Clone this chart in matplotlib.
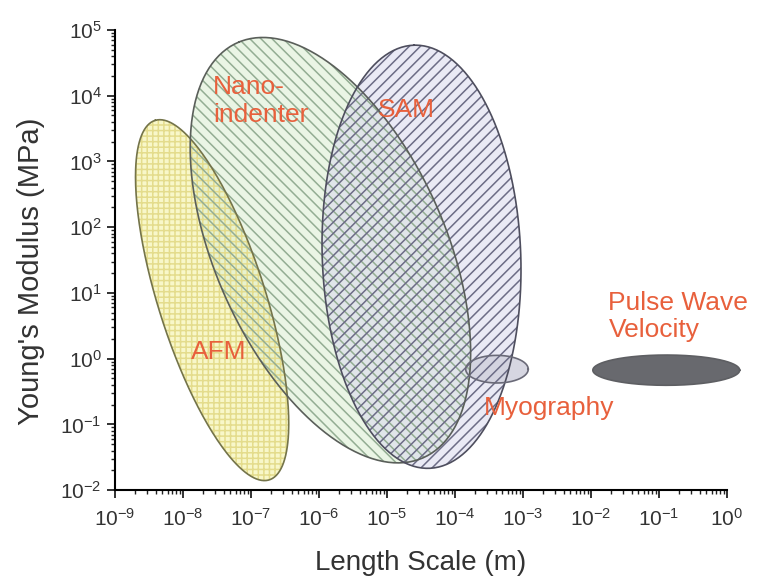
import numpy as np
import matplotlib.pyplot as plt

plt.rcParams['font.family'] = ['Liberation Sans', 'DejaVu Sans']
plt.rcParams['hatch.linewidth'] = 1.1

# ellipse regions in log10 space: centre x, centre y, semi-major, semi-minor, angle (deg)
names = ['AFM', 'Nano', 'SAM', 'Myography', 'PWV']
cx = [-7.57, -5.83, -4.49, -3.38, -0.89]
cy = [0.89, 1.65, 1.55, -0.16, -0.175]
semi_a = [2.86, 3.44, 3.22, 0.46, 1.08]
semi_b = [0.79, 1.70, 1.46, 0.21, 0.23]
angle = [107, 113, 92, 0, 0]

face = ['#f8f7c4', '#ddefd4', '#d9d9ee', '#d2d2de', '#68696e']
face_alpha = [0.9, 0.6, 0.55, 0.9, 1.0]
hatch_col = ['#e4dc8c', '#93ad93', '#6c6c86', None, None]
hatches = ['+++', '\\\\\\', '///', None, None]
edge = ['#74744a', '#5a5f5a', '#4e4e5e', '#6a6a78', '#5e5f63']

labels = ['Nano-\nindenter', 'SAM', 'AFM', 'Myography', 'Pulse Wave\nVelocity']
lab_x = [-7.555, -4.71, -7.48, -3.57, -1.74]
lab_y = [3.92, 3.78, 0.10, -0.75, 0.64]
lab_ha = ['left', 'center', 'center', 'left', 'left']


def ellipse_pts(x0, y0, a, b, ang):
    t = np.linspace(0, 2*np.pi, 300)
    p = np.radians(ang)
    x = x0 + a*np.cos(t)*np.cos(p) - b*np.sin(t)*np.sin(p)
    y = y0 + a*np.cos(t)*np.sin(p) + b*np.sin(t)*np.cos(p)
    return 10**x, 10**y


fig = plt.figure(figsize=(7.61, 5.87), dpi=100)
ax = fig.add_axes([0.151, 0.165, 0.804, 0.784])
ax.set_xscale('log')
ax.set_yscale('log')
ax.set_xlim(1e-9, 1e0)
ax.set_ylim(1e-2, 1e5)

shapes = [ellipse_pts(cx[i], cy[i], semi_a[i], semi_b[i], angle[i]) for i in range(len(names))]

# fills first, then hatching on top so overlaps show both patterns, then outlines
for i, (X, Y) in enumerate(shapes):
    clip = names[i] != 'PWV'
    ax.fill(X, Y, color=face[i], alpha=face_alpha[i], lw=0, zorder=2, clip_on=clip)
for i, (X, Y) in enumerate(shapes):
    if hatches[i]:
        ax.fill(X, Y, facecolor='none', edgecolor=hatch_col[i], hatch=hatches[i],
                lw=0, zorder=3)
for i, (X, Y) in enumerate(shapes):
    ax.plot(X, Y, color=edge[i], lw=1.2, zorder=4, clip_on=names[i] != 'PWV')

for i in range(len(labels)):
    ax.text(10**lab_x[i], 10**lab_y[i], labels[i], color='#e8603c', fontsize=19,
            ha=lab_ha[i], va='center', linespacing=1.2, zorder=10)

ax.spines['top'].set_visible(False)
ax.spines['right'].set_visible(False)
ax.spines['left'].set_linewidth(1.5)
ax.spines['bottom'].set_linewidth(1.5)
ax.set_xticks([10.0**k for k in range(-9, 1)])
ax.set_yticks([10.0**k for k in range(-2, 6)])
ax.tick_params(which='major', length=6, width=1.3, labelsize=15, color='#222222',
               labelcolor='#333333')
ax.tick_params(which='minor', length=3, width=1.0, color='#222222')
ax.tick_params(axis='x', pad=7)

ax.set_xlabel('Length Scale (m)', fontsize=20, color='#333333')
ax.set_ylabel("Young's Modulus (MPa)", fontsize=21, color='#333333')
ax.xaxis.set_label_coords(0.499, -0.13)
ax.yaxis.set_label_coords(-0.114, 0.476)

fig.savefig('out.png', dpi=100)
